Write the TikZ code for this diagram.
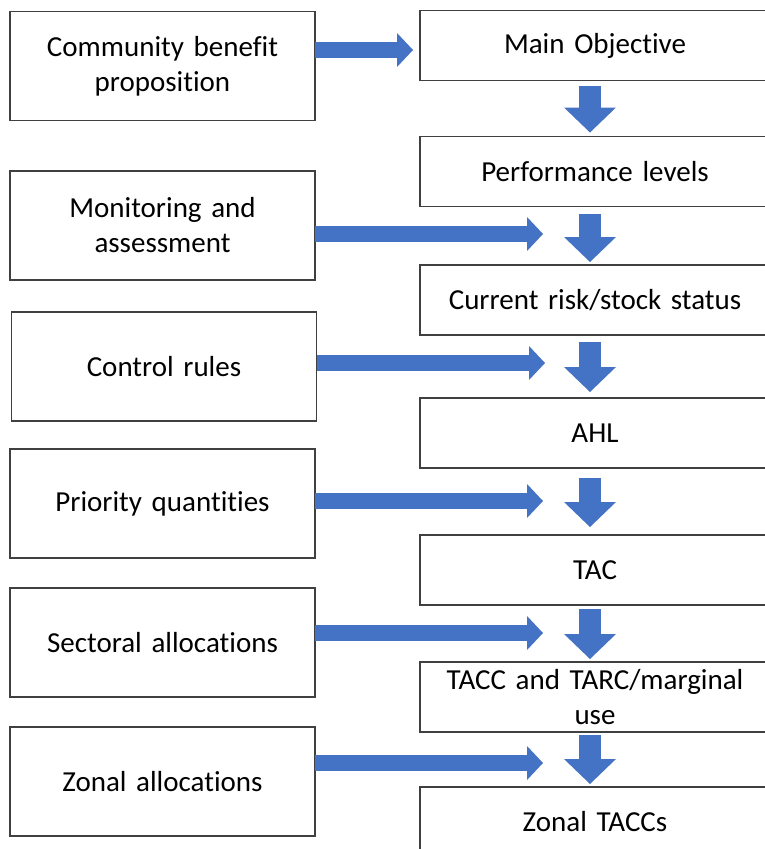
\documentclass[tikz,border=0pt]{standalone}
\usepackage{fontspec}
\setmainfont{Carlito}[Ligatures=NoCommon]
\usetikzlibrary{arrows.meta,calc}
\definecolor{ablue}{HTML}{4472C4}
\definecolor{bord}{HTML}{404040}
\begin{document}
\begin{tikzpicture}[x=1pt,y=-1pt,
  box/.style={draw=bord,line width=1.3pt,fill=white,inner sep=0pt,outer sep=0pt,
    align=center,font=\fontsize{29}{35}\selectfont},
  lbox/.style={box,minimum width=305pt,minimum height=109pt,text width=295pt},
  rbox/.style={box,minimum width=350pt,minimum height=70pt,text width=340pt},
  rarr/.style={ablue,line width=16pt,-{Triangle[width=34pt,length=16pt,line width=0pt]}},
  darr/.style={ablue,line width=22pt,-{Triangle[width=52pt,length=25pt,line width=0pt]}}]
\useasboundingbox (0,0) rectangle (765,849);
\clip (0,0) rectangle (765,849);
\fill[white] (0,0) rectangle (765,849);
% left boxes
\node[lbox] (l1) at (162.5,66)    {Community benefit\\proposition};
\node[lbox] (l2) at (162.5,225.5) {Monitoring and\\assessment};
\node[lbox] (l3) at (164,366.5)   {Control rules};
\node[lbox] (l4) at (162.5,503.5) {Priority quantities};
\node[lbox] (l5) at (162.5,642.5) {Sectoral allocations};
\node[lbox] (l6) at (162.5,781.5) {Zonal allocations};
% right boxes
\node[rbox] (r1) at (595,45.5)  {Main Objective};
\node[rbox] (r2) at (595,171.5) {Performance levels};
\node[rbox] (r3) at (595,300)   {Current risk/stock status};
\node[rbox] (r4) at (595,433)   {AHL};
\node[rbox] (r5) at (595,570)   {TAC};
\node[rbox] (r6) at (595,697)   {TACC and TARC/marginal\\use};
\node[rbox] (r7) at (595,822)   {Zonal TACCs};
% right arrow tips
\coordinate (t1) at (413,50);
\coordinate (t2) at (543,234);
\coordinate (t3) at (545,363);
\coordinate (t4) at (543,501);
\coordinate (t5) at (543,633);
\coordinate (t6) at (543,763);
\draw[rarr] (l1.east |- t1) -- (t1);
\draw[rarr] (l2.east |- t2) -- (t2);
\draw[rarr] (l3.east |- t3) -- (t3);
\draw[rarr] (l4.east |- t4) -- (t4);
\draw[rarr] (l5.east |- t5) -- (t5);
\draw[rarr] (l6.east |- t6) -- (t6);
% down arrows
\draw[darr] ($(r1.south)+(-5,5)$)  -- ($(r2.north)+(-5,-4)$);
\draw[darr] ($(r2.south)+(-5,7)$)  -- ($(r3.north)+(-5,-3)$);
\draw[darr] ($(r3.south)+(-5,7)$)  -- ($(r4.north)+(-5,-6)$);
\draw[darr] ($(r4.south)+(-5,10)$) -- ($(r5.north)+(-5,-8)$);
\draw[darr] ($(r5.south)+(-5,4)$)  -- ($(r6.north)+(-5,-3)$);
\draw[darr] ($(r6.south)+(-5,3)$)  -- ($(r7.north)+(-5,-3)$);
\end{tikzpicture}
\end{document}
